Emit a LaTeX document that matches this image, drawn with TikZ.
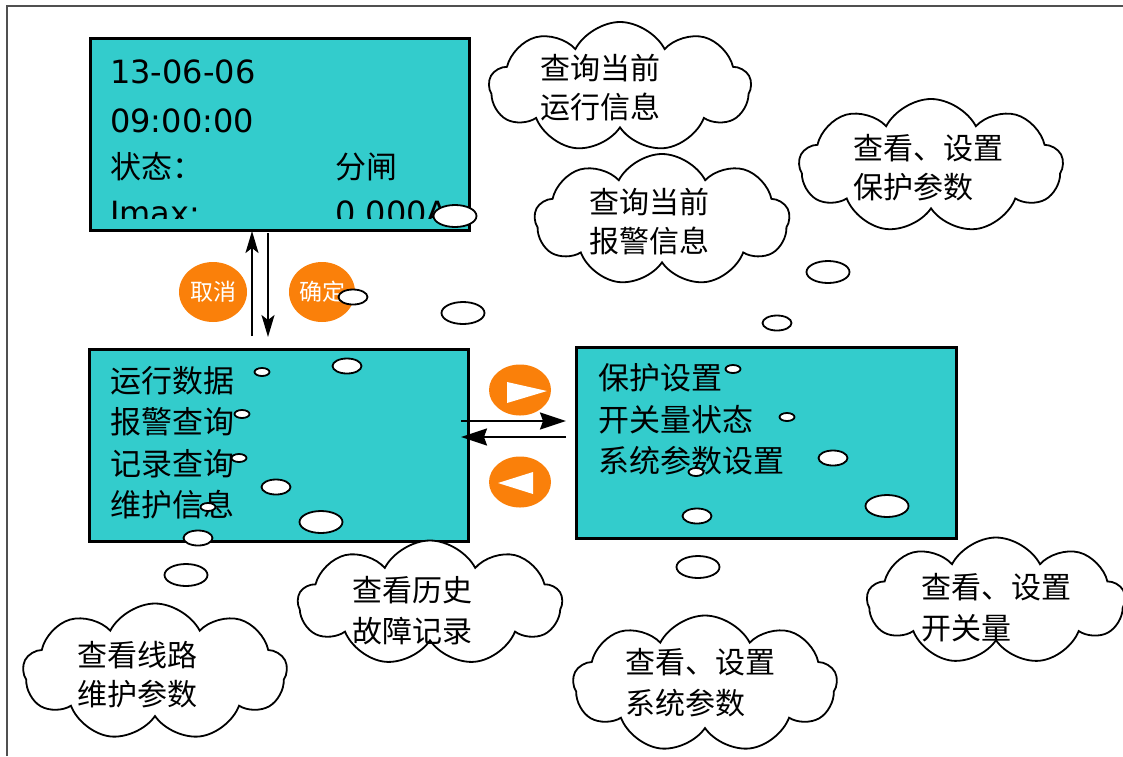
\documentclass[tikz,border=0pt]{standalone}
\usepackage{fontspec}
\setmainfont{DejaVu Sans}
\newfontfamily\cjk{Noto Sans CJK SC}
\usetikzlibrary{shapes.symbols,shapes.geometric,arrows.meta}
\definecolor{screenteal}{RGB}{51,204,204}
\definecolor{btnorange}{RGB}{250,128,10}
\definecolor{framegray}{RGB}{80,80,80}
\begin{document}
\begin{tikzpicture}[x=1pt,y=-1pt,
  screen/.style={draw=black, line width=2.5pt, fill=screenteal, anchor=north west, inner sep=0},
  bubble/.style={draw=black, line width=1.8pt, fill=white, ellipse, inner sep=0},
  bsmall/.style={bubble, minimum width=15pt, minimum height=8pt},
  bmed/.style={bubble, minimum width=29pt, minimum height=15pt},
  blarge/.style={bubble, minimum width=43pt, minimum height=22pt},
  thought/.style={cloud, cloud puffs=9, cloud puff arc=125, cloud ignores aspect, draw=black, line width=1.8pt, fill=white, inner sep=0},
  cltext/.style={font=\cjk\fontsize{30}{36}\selectfont, anchor=west, inner sep=0},
  scrtext/.style={font=\cjk\fontsize{31}{36}\selectfont, anchor=west, inner sep=0},
  lattext/.style={font=\fontsize{32}{38}\selectfont, anchor=base west, inner sep=0},
  btn/.style={ellipse, fill=btnorange, inner sep=0, text=white, font=\cjk\fontsize{23}{26}\selectfont},
  navbtn/.style={ellipse, fill=btnorange, inner sep=0, minimum width=62pt, minimum height=51pt},
  vtip/.style={-{Stealth[length=22pt,width=13pt,inset=5pt]}, line width=2pt},
  htip/.style={-{Stealth[length=26pt,width=17pt,inset=3pt]}, line width=2pt}
]
\useasboundingbox (0,0) rectangle (1123,756);
% outer frame (left and top edges)
\draw[framegray, line width=1.5pt] (7,756) -- (7,6) -- (1123,6);

% screens
\node[screen, minimum width=379pt, minimum height=192pt] (topbox) at (89,37) {};
\node[screen, minimum width=379pt, minimum height=192pt] (leftbox) at (88,348) {};
\node[screen, minimum width=380pt, minimum height=191pt] (rightbox) at (575,346) {};

% top screen text
\node[lattext] (date) at (110,83) {13-06-06};
\node[lattext] (time) at (110,132) {09:00:00};
\node[scrtext] (state) at (110,167) {状态：};
\node[scrtext] (stateval) at (335,167) {分闸};
\begin{scope}
  \clip (90,190) rectangle (467,218);
  \node[lattext] (imax) at (110,224) {Imax:};
  \node[lattext] (imaxval) at (335,224) {0.000A};
\end{scope}

% left screen menu
\node[scrtext] (m1) at (110,381) {运行数据};
\node[scrtext] (m2) at (110,422) {报警查询};
\node[scrtext] (m3) at (110,464) {记录查询};
\node[scrtext] (m4) at (110,505) {维护信息};

% right screen menu
\node[scrtext] (r1) at (598,378) {保护设置};
\node[scrtext] (r2) at (598,420) {开关量状态};
\node[scrtext] (r3) at (598,461) {系统参数设置};

% cancel / confirm buttons
\node[btn, minimum width=68pt, minimum height=60pt] (cancel) at (213,292) {取消};
\node[btn, minimum width=66pt, minimum height=60pt] (confirm) at (322,292) {确定};

% vertical arrows
\coordinate (upS) at (252,336);
\coordinate (upE) at (252,231);
\coordinate (dnS) at (268,233);
\coordinate (dnE) at (268,337);
\draw[vtip] (upS) -- (upE);
\draw[vtip] (dnS) -- (dnE);

% navigation buttons
\node[navbtn] (nextbtn) at (520,390) {};
\fill[white] (507,382) -- (507,403) -- (547,391) -- cycle;
\node[navbtn] (prevbtn) at (520,482) {};
\fill[white] (498,483) -- (533,472) -- (533,494) -- cycle;

% horizontal arrows
\coordinate (rS) at (461,421);
\coordinate (rE) at (566,421);
\coordinate (lS) at (566,437);
\coordinate (lE) at (461,437);
\draw[htip] (rS) -- (rE);
\draw[htip] (lS) -- (lE);

% clouds
\node[thought, minimum width=262pt, minimum height=130pt] (c1) at (620,87) {};
\node[cltext] (c1a) at (540,68) {查询当前};
\node[cltext] (c1b) at (540,107) {运行信息};

\node[thought, minimum width=264pt, minimum height=134pt] (c2) at (931,166) {};
\node[cltext] (c2a) at (853,148) {查看、设置};
\node[cltext] (c2b) at (853,187) {保护参数};

\node[thought, minimum width=255pt, minimum height=132pt] (c3) at (662,220) {};
\node[cltext] (c3a) at (589,202) {查询当前};
\node[cltext] (c3b) at (589,241) {报警信息};

\node[thought, minimum width=264pt, minimum height=125pt] (c4) at (430,603) {};
\node[cltext] (c4a) at (352,590) {查看历史};
\node[cltext] (c4b) at (352,631) {故障记录};

\node[thought, minimum width=264pt, minimum height=137pt] (c5) at (155,672) {};
\node[cltext] (c5a) at (77,655) {查看线路};
\node[cltext] (c5b) at (77,694) {维护参数};

\node[thought, minimum width=264pt, minimum height=137pt] (c6) at (705,684) {};
\node[cltext] (c6a) at (625,662) {查看、设置};
\node[cltext] (c6b) at (625,703) {系统参数};

\node[thought, minimum width=258pt, minimum height=127pt] (c7) at (996,601) {};
\node[cltext] (c7a) at (921,587) {查看、设置};
\node[cltext] (c7b) at (921,628) {开关量};

% thought bubbles (tails)
\node[blarge] (e1) at (455,216) {};
\node[bmed] (e2) at (353,297) {};
\node[blarge] (e3) at (463,313) {};
\node[bmed] (e4) at (347,366) {};
\node[bsmall] (e5) at (262,372) {};
\node[bsmall] (e6) at (242,414) {};
\node[bsmall] (e7) at (239,458) {};
\node[bmed] (e8) at (276,487) {};
\node[bsmall] (e9) at (208,507) {};
\node[blarge] (e10) at (321,522) {};
\node[bmed] (e11) at (198,538) {};
\node[blarge] (e12) at (186,575) {};
\node[blarge] (e13) at (828,272) {};
\node[bmed] (e14) at (777,323) {};
\node[bsmall] (e15) at (733,369) {};
\node[bsmall] (e16) at (787,417) {};
\node[bmed] (e17) at (833,458) {};
\node[bsmall] (e18) at (696,472) {};
\node[blarge] (e19) at (887,506) {};
\node[bmed] (e20) at (697,516) {};
\node[blarge] (e21) at (698,567) {};
\end{tikzpicture}
\end{document}
